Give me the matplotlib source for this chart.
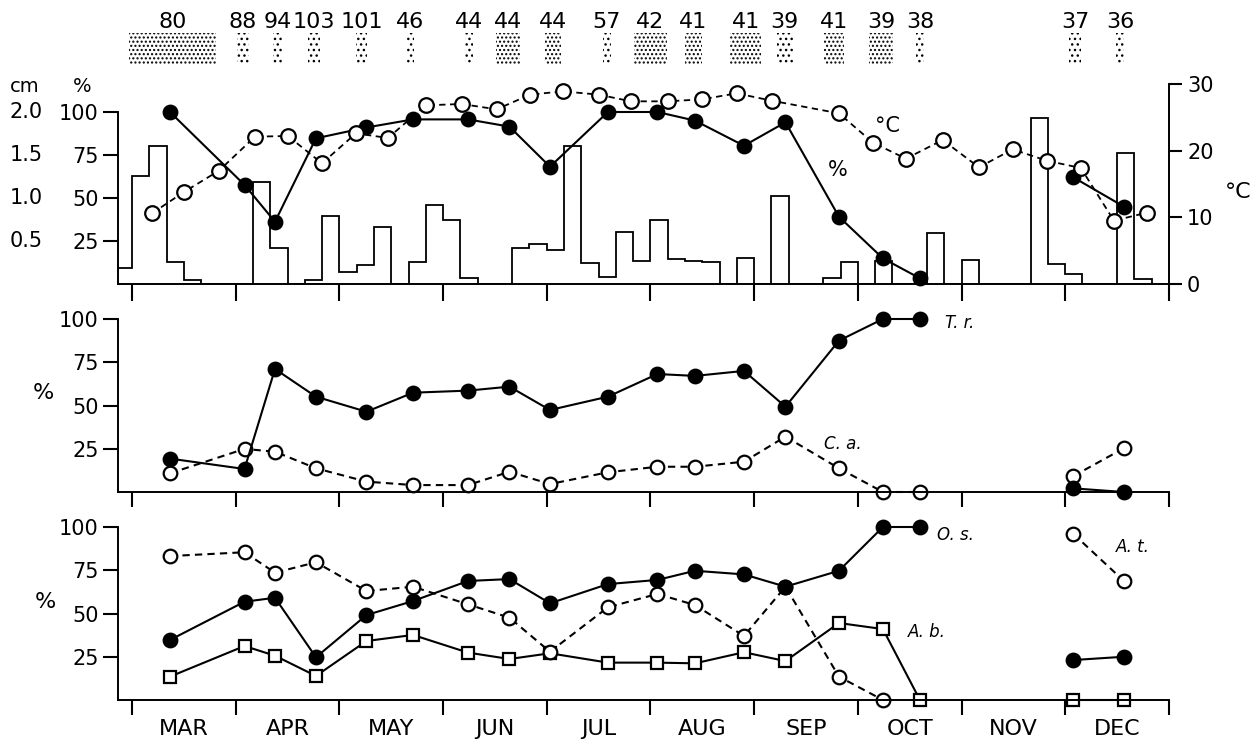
import numpy as np
import matplotlib.pyplot as plt
import matplotlib.transforms as mtransforms
from matplotlib.patches import Rectangle

plt.rcParams['font.family'] = ['DejaVu Sans']

# x is measured in months after 1 March (0 = 1 Mar, 10 = 1 Jan)
months = ['MAR', 'APR', 'MAY', 'JUN', 'JUL', 'AUG', 'SEP', 'OCT', 'NOV', 'DEC']

# sampling dates and sample sizes
sample_x = [0.366, 1.085, 1.379, 1.774, 2.261, 2.710, 3.240, 3.640, 4.031, 4.590,
            5.067, 5.429, 5.902, 6.302, 6.818, 7.242, 7.599, 9.079, 9.566]
sample_n = [80, 88, 94, 103, 101, 46, 44, 44, 44, 57, 42, 41, 41, 39, 41, 39, 38, 37, 36]
period_start = [-0.03, 1.01, 1.36, 1.70, 2.16, 2.65, 3.21, 3.51, 3.98, 4.54,
                4.84, 5.33, 5.77, 6.22, 6.67, 7.11, 7.56, 9.04, 9.49]
period_end = [0.81, 1.13, 1.45, 1.81, 2.27, 2.72, 3.29, 3.74, 4.14, 4.62,
              5.16, 5.50, 6.07, 6.37, 6.87, 7.34, 7.64, 9.15, 9.57]
period_dense = [1, 0, 0, 0, 0, 0, 0, 1, 1, 0, 1, 1, 1, 0, 1, 1, 0, 0, 0]

# rainfall per pentad (cm), first bin is the last pentad of February
rain_cm = [0.19, 1.26, 1.60, 0.26, 0.05, 0, 0, 0, 1.19, 0.42, 0, 0.05,
           0.79, 0.14, 0.22, 0.66, 0, 0.26, 0.92, 0.75, 0.07, 0, 0, 0.42,
           0.46, 0.40, 1.60, 0.24, 0.08, 0.60, 0.27, 0.75, 0.29, 0.27, 0.26, 0,
           0.30, 0, 1.02, 0, 0, 0.07, 0.26, 0, 0.27, 0, 0, 0.59,
           0, 0.28, 0, 0, 0, 1.93, 0.23, 0.12, 0, 0, 1.52, 0.06]
rain_edges = np.arange(-1, len(rain_cm)) / 6.0

# mean temperature per ten-day period (deg C)
temp_x = [0.193, 0.501, 0.839, 1.186, 1.504, 1.832, 2.160, 2.469, 2.832, 3.179,
          3.517, 3.838, 4.156, 4.503, 4.812, 5.169, 5.497, 5.831, 6.169, 6.818,
          7.146, 7.464, 7.818, 8.168, 8.493, 8.821, 9.151, 9.470, 9.788]
temp_c = [10.6, 13.8, 17.0, 22.1, 22.2, 18.1, 22.6, 21.9, 26.8, 27.0,
          26.2, 28.4, 28.9, 28.4, 27.4, 27.4, 27.7, 28.6, 27.5, 25.6,
          21.2, 18.8, 21.6, 17.5, 20.2, 18.5, 17.4, 9.5, 10.7]

# percentages at each sampling date
total_pct = [100, 57.6, 36.2, 84.7, 91, 95.7, 95.7, 91.5, 68.2, 100,
             100, 95, 80.4, 94, 39.1, 14.9, 3.3, 62, 45]
tr_pct = [19.3, 13.3, 71.1, 55.1, 46.4, 57.4, 58.6, 60.9, 47.4, 55.1,
          68.2, 67.1, 70, 49.3, 87.5, 100, 100, 2.1, 0]
ca_pct = [10.8, 24.9, 23.3, 13.7, 6, 4, 4, 11.7, 4.6, 11.4,
          14.6, 14.6, 17.5, 32, 13.7, 0, 0, 9.2, 25.3]
os_pct = [34.7, 56.8, 59.1, 24.7, 49.1, 57.2, 68.8, 69.9, 55.9, 67,
          69.4, 74.7, 72.6, 65.5, 74.7, 100, 100, 23.1, 25]
ab_pct = [13.5, 31.2, 25.6, 13.9, 34.1, 37.6, 27.4, 23.7, 27, 21.6,
          21.6, 21.2, 27.6, 22.5, 44.5, 41, 0, 0, 0]
at_pct = [83.2, 85.4, 73.6, 79.6, 63, 65.5, 55.3, 47.6, 27.9, 53.6,
          61.3, 54.9, 37, 65.5, 13.5, 0, np.nan, 96, 68.8]

XMIN, XMAX = -0.135, 10.001
LW = 1.5
DASH = (0, (3.5, 2.5))


def style_panel(ax, ticklen):
    ax.set_xlim(XMIN, XMAX)
    ax.set_xticks(np.arange(11))
    ax.set_xticklabels([])
    ax.tick_params(axis='x', direction='out', length=ticklen, width=1.5)
    ax.tick_params(axis='y', direction='out', length=11, width=1.5, pad=3, labelsize=15)
    for s in ['top', 'right']:
        ax.spines[s].set_visible(False)
    ax.spines['left'].set_bounds(0, 100)
    ax.spines['left'].set_linewidth(1.4)
    ax.spines['bottom'].set_linewidth(1.4)


def series(ax, y, style, marker, filled, ms=9.8):
    face = 'black' if filled else 'white'
    for a, b in [(0, 17), (17, 19)]:
        ax.plot(sample_x[a:b], y[a:b], color='black', lw=LW, linestyle=style,
                marker=marker, ms=ms, mfc=face, mec='black', mew=1.6, clip_on=False)


fig = plt.figure(figsize=(12.6, 7.39), dpi=100)
fig.patch.set_facecolor('white')

# top strip: sampling periods and sample sizes
axs = fig.add_axes([118 / 1260, 1 - 70 / 739, 1051 / 1260, 62 / 739])
axs.set_xlim(XMIN, XMAX)
axs.set_ylim(0, 1)
axs.axis('off')
for x0, x1, n, d in zip(period_start, period_end, sample_n, period_dense):
    axs.add_patch(Rectangle((x0, 0.08), x1 - x0, 0.52, fill=False, lw=0,
                            edgecolor='black', hatch='....' if d else '...'))
    axs.text((x0 + x1) / 2, 0.77, str(n), ha='center', va='center', fontsize=16)

# top panel: rainfall, % and temperature
ax1 = fig.add_axes([118 / 1260, 1 - 284 / 739, 1051 / 1260, 200 / 739])
style_panel(ax1, 12)
ax1.set_ylim(0, 200 / 1.72)
ax1.stairs(np.array(rain_cm) * 50, rain_edges, baseline=0, fill=False,
           color='black', lw=1.3)
series(ax1, total_pct, '-', 'o', True)
ax1.set_yticks([25, 50, 75, 100])
ax1.set_yticklabels(['25', '50', '75', '100'])
trans = mtransforms.blended_transform_factory(ax1.transAxes, ax1.transData)
for v in [25, 50, 75, 100]:
    ax1.text(-0.0875, v, f'{v / 50:.1f}', transform=trans, ha='center',
             va='center', fontsize=15)
ax1.text(6.81, 66, '%', fontsize=15, ha='center', va='center')

ax2 = ax1.twinx()
ax2.set_ylim(0, 30)
ax2.set_xlim(XMIN, XMAX)
ax2.plot(temp_x, temp_c, color='black', lw=1.3, linestyle=DASH, marker='o',
         ms=10.5, mfc='white', mec='black', mew=1.6, clip_on=False)
for s in ['top', 'left', 'bottom']:
    ax2.spines[s].set_visible(False)
ax2.spines['right'].set_linewidth(1.4)
ax2.set_yticks([0, 10, 20, 30])
ax2.tick_params(axis='y', direction='out', length=9, width=1.5, pad=4, labelsize=15)
ax2.text(7.29, 23.7, '°C', fontsize=15, ha='center', va='center')

# middle panel: T.r. and C.a.
ax3 = fig.add_axes([118 / 1260, 1 - 492 / 739, 1051 / 1260, 173 / 739])
style_panel(ax3, 11)
ax3.set_ylim(0, 100)
ax3.set_yticks([25, 50, 75, 100])
series(ax3, ca_pct, DASH, 'o', False)
series(ax3, tr_pct, '-', 'o', True)
ax3.text(7.98, 97.5, 'T. r.', fontsize=12, style='italic', ha='center', va='center')
ax3.text(6.86, 27.5, 'C. a.', fontsize=12, style='italic', ha='center', va='center')

# bottom panel: O.s., A.b. and A.t.
ax4 = fig.add_axes([118 / 1260, 1 - 700 / 739, 1051 / 1260, 173 / 739])
style_panel(ax4, 11)
ax4.set_ylim(0, 100)
ax4.set_yticks([25, 50, 75, 100])
series(ax4, ab_pct, '-', 's', False, ms=9)
series(ax4, at_pct, DASH, 'o', False)
series(ax4, os_pct, '-', 'o', True)
ax4.set_xticks(np.arange(10) + 0.5, minor=True)
ax4.set_xticklabels(months, minor=True)
ax4.tick_params(axis='x', which='minor', length=0, pad=14, labelsize=16)
ax4.text(7.94, 95.5, 'O. s.', fontsize=12, style='italic', ha='center', va='center')
ax4.text(7.67, 39.5, 'A. b.', fontsize=12, style='italic', ha='center', va='center')
ax4.text(9.65, 88.5, 'A. t.', fontsize=12, style='italic', ha='center', va='center')

# axis captions
fig.text(25 / 1260, 1 - 87 / 739, 'cm', fontsize=14, ha='center', va='center')
fig.text(82 / 1260, 1 - 87 / 739, '%', fontsize=14, ha='center', va='center')
fig.text(1238 / 1260, 1 - 192 / 739, '°C', fontsize=16, ha='center', va='center')
fig.text(43 / 1260, 1 - 393 / 739, '%', fontsize=16, ha='center', va='center')
fig.text(45 / 1260, 1 - 602 / 739, '%', fontsize=16, ha='center', va='center')

fig.savefig('out.png', dpi=100)
